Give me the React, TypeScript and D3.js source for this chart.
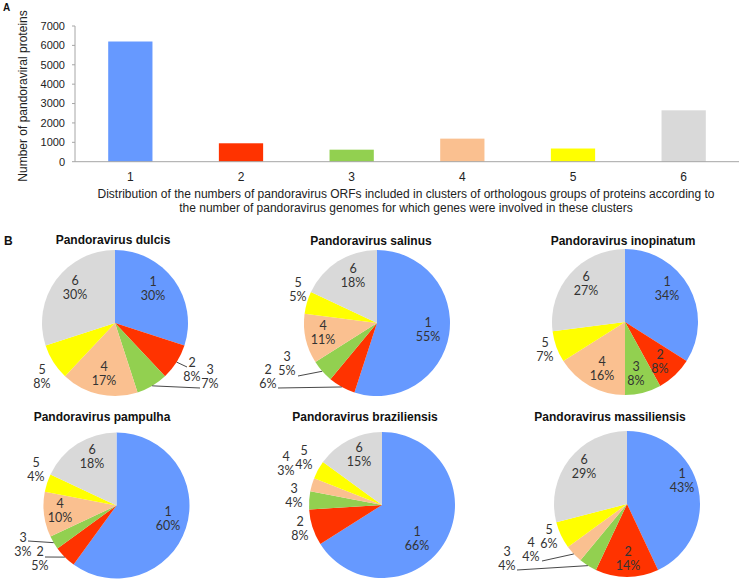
import React from "react";
import * as d3 from "d3";

// ---- Data ----
const barCategories = ["1", "2", "3", "4", "5", "6"];
const barValues = [6200, 950, 620, 1190, 680, 2650];
const yTicks = [0, 1000, 2000, 3000, 4000, 5000, 6000, 7000];
const sliceColors = ["#6699FF", "#FF3300", "#92D050", "#FAC090", "#FFFF00", "#D9D9D9"];

const pieTitles = [
  "Pandoravirus dulcis",
  "Pandoravirus salinus",
  "Pandoravirus inopinatum",
  "Pandoravirus pampulha",
  "Pandoravirus braziliensis",
  "Pandoravirus massiliensis",
];
const dulcis = [30, 8, 7, 17, 8, 30];
const salinus = [55, 6, 5, 11, 5, 18];
const inopinatum = [34, 8, 8, 16, 7, 27];
const pampulha = [60, 5, 3, 10, 4, 18];
const braziliensis = [66, 8, 4, 3, 4, 15];
const massiliensis = [43, 14, 4, 4, 6, 29];
const pieValues = [dulcis, salinus, inopinatum, pampulha, braziliensis, massiliensis];

const xTitle1 =
  "Distribution of the numbers of pandoravirus ORFs included in clusters of orthologous groups of proteins according to";
const xTitle2 = "the number of pandoravirus genomes for which genes were involved in these clusters";
const yTitle = "Number of pandoraviral proteins";

// ---- Layout (positions/styles, separate from data) ----
const W = 739;
const H = 580;
const pieLayout = [
  { cx: 115, cy: 323, tx: 113, ty: 240 },
  { cx: 377, cy: 323, tx: 371, ty: 241 },
  { cx: 625, cy: 322, tx: 623, ty: 241 },
  { cx: 116.5, cy: 505.5, tx: 102, ty: 417 },
  { cx: 382, cy: 505, tx: 365, ty: 417 },
  { cx: 627, cy: 504, tx: 610, ty: 417 },
];
const R = 73;
// label offsets (line-1 centre relative to pie centre)
const labelOffsets: [number, number][][] = [
  [[38, -41], [77, 40], [95, 47], [-11, 44], [-73, 47], [-40, -42]],
  [[51, 0], [-109, 47], [-90, 34], [-54, 3], [-79, -40], [-24, -54]],
  [[42, -40], [35, 33], [11, 45], [-23, 40], [-80, 21], [-39, -45]],
  [[51.5, 6.5], [-76.5, 46.5], [-93.5, 32.5], [-56.5, -1.5], [-80.5, -42.5], [-24.5, -55.5]],
  [[35, 27], [-82, 17], [-88, -16], [-96, -48], [-78, -54], [-23, -57]],
  [[55, -30], [1, 48], [-120, 48], [-96, 39], [-78, 26], [-43, -44]],
];
// leader line label-side end points (relative to pie centre), per pie: slice index -> point
const leaders: { [k: number]: [number, number] }[] = [
  { 1: [72, 44], 2: [85, 65] },
  { 1: [-99, 65], 2: [-79, 53] },
  {},
  { 1: [-71.5, 51.5], 2: [-88.5, 35.5] },
  {},
  { 2: [-110, 66], 3: [-85, 57] },
];

const barLeft = 75;
const barRight = 739;
const barTop = 26;
const barBottom = 161.7;

export default function App() {
  const x = d3
    .scaleBand<string>()
    .domain(barCategories)
    .range([barLeft, barRight])
    .paddingInner(0.6)
    .paddingOuter(0.3);
  const y = d3.scaleLinear().domain([0, 7000]).range([barBottom, barTop]);

  const pie = d3
    .pie<number>()
    .value((d) => d)
    .sort(null);
  const arc = d3.arc<d3.PieArcDatum<number>>().innerRadius(0).outerRadius(R);

  const sans = "Arial, 'Liberation Sans', sans-serif";
  const labelFont = "Lato, 'Liberation Sans', sans-serif";

  return (
    <svg
      width={W}
      height={H}
      style={{ position: "absolute", left: 0, top: 0, background: "#fff" }}
      fontFamily={sans}
    >
      <rect x={0} y={0} width={W} height={H} fill="#fff" />
      {/* Panel A */}
      <text x={3} y={11} fontSize={10} fontWeight="bold" fill="#111">
        A
      </text>
      {/* y axis */}
      <line x1={barLeft} x2={barLeft} y1={y(7000)} y2={y(0)} stroke="#A6A6A6" strokeWidth={1} />
      {yTicks.map((t) => (
        <g key={t}>
          <line x1={barLeft - 3} x2={barLeft} y1={y(t)} y2={y(t)} stroke="#A6A6A6" />
          <text x={barLeft - 10} y={y(t)} dy="0.35em" textAnchor="end" fontSize={11} fill="#222">
            {t}
          </text>
        </g>
      ))}
      {barCategories.map((c, i) => (
        <rect
          key={c}
          x={x(c)}
          y={y(barValues[i])}
          width={x.bandwidth()}
          height={y(0) - y(barValues[i])}
          fill={sliceColors[i]}
        />
      ))}
      <line x1={barLeft} x2={barRight} y1={y(0)} y2={y(0)} stroke="#A6A6A6" strokeWidth={1} />
      {barCategories.map((c) => (
        <text
          key={c}
          x={(x(c) as number) + x.bandwidth() / 2}
          y={181}
          textAnchor="middle"
          fontSize={12}
          fill="#222"
        >
          {c}
        </text>
      ))}
      <text x={406} y={197.5} textAnchor="middle" fontSize={12} fill="#222">
        {xTitle1}
      </text>
      <text x={406} y={211.5} textAnchor="middle" fontSize={12} fill="#222">
        {xTitle2}
      </text>
      <text
        transform={`translate(27,96) rotate(-90)`}
        textAnchor="middle"
        fontSize={12}
        fill="#222"
      >
        {yTitle}
      </text>

      {/* Panel B */}
      <text x={4} y={245} fontSize={12} fontWeight="bold" fill="#111">
        B
      </text>
      {pieValues.map((vals, pi) => {
        const L = pieLayout[pi];
        const arcs = pie(vals);
        return (
          <g key={pi}>
            <text
              x={L.tx}
              y={L.ty}
              dy="0.35em"
              textAnchor="middle"
              fontSize={12}
              fontWeight="bold"
              fill="#111"
            >
              {pieTitles[pi]}
            </text>
            <g transform={`translate(${L.cx},${L.cy})`}>
              {arcs.map((a, i) => (
                <path key={i} d={arc(a) || ""} fill={sliceColors[i]} />
              ))}
              {arcs.map((a, i) => {
                const end = leaders[pi][i];
                if (!end) return null;
                const mid = (a.startAngle + a.endAngle) / 2;
                const ex = Math.sin(mid) * R;
                const ey = -Math.cos(mid) * R;
                return (
                  <line
                    key={"l" + i}
                    x1={ex}
                    y1={ey}
                    x2={end[0]}
                    y2={end[1]}
                    stroke="#333"
                    strokeWidth={0.9}
                  />
                );
              })}
              {arcs.map((a, i) => {
                const [dx, dy] = labelOffsets[pi][i];
                return (
                  <text
                    key={"t" + i}
                    x={dx}
                    y={dy}
                    textAnchor="middle"
                    fontSize={12.5}
                    fill="#333"
                    fontFamily={labelFont}
                  >
                    <tspan x={dx} dy="0.35em">
                      {barCategories[i]}
                    </tspan>
                    <tspan x={dx} dy={14}>
                      {vals[i]}%
                    </tspan>
                  </text>
                );
              })}
            </g>
          </g>
        );
      })}
    </svg>
  );
}
